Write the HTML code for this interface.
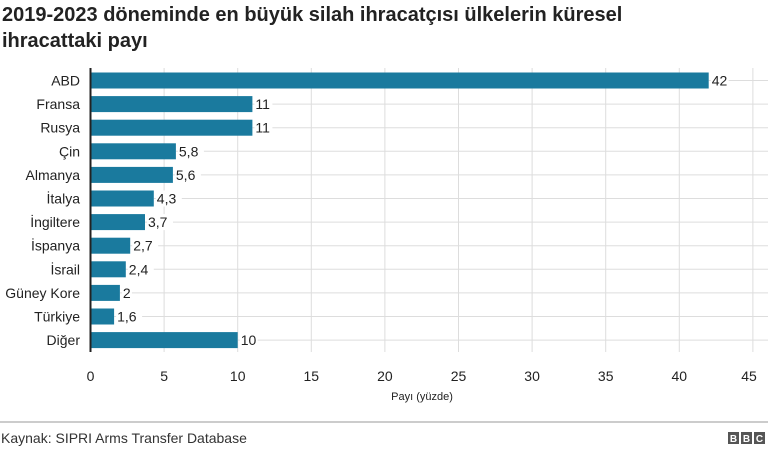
<!DOCTYPE html><html><head><meta charset="utf-8"><style>
body{margin:0;width:768px;height:450px;background:#fff;font-family:"Liberation Sans",sans-serif;overflow:hidden}
</style></head><body>
<svg width="768" height="450" xmlns="http://www.w3.org/2000/svg" font-family="Liberation Sans, sans-serif">
<text x="2" y="21" font-size="20" font-weight="bold" fill="#222">2019-2023 döneminde en büyük silah ihracatçısı ülkelerin küresel</text>
<text x="2" y="47" font-size="20" font-weight="bold" fill="#222">ihracattaki payı</text>
<g stroke="#ddd" stroke-width="1">
<line x1="164.1" y1="68" x2="164.1" y2="352"/><line x1="237.7" y1="68" x2="237.7" y2="352"/><line x1="311.3" y1="68" x2="311.3" y2="352"/><line x1="384.9" y1="68" x2="384.9" y2="352"/><line x1="458.5" y1="68" x2="458.5" y2="352"/><line x1="532.1" y1="68" x2="532.1" y2="352"/><line x1="605.7" y1="68" x2="605.7" y2="352"/><line x1="679.3" y1="68" x2="679.3" y2="352"/><line x1="752.9" y1="68" x2="752.9" y2="352"/>
<line x1="708.7" y1="80.5" x2="768" y2="80.5"/>
<line x1="252.4" y1="104.1" x2="768" y2="104.1"/>
<line x1="252.4" y1="127.7" x2="768" y2="127.7"/>
<line x1="175.9" y1="151.3" x2="768" y2="151.3"/>
<line x1="172.9" y1="174.9" x2="768" y2="174.9"/>
<line x1="153.8" y1="198.5" x2="768" y2="198.5"/>
<line x1="145" y1="222.1" x2="768" y2="222.1"/>
<line x1="130.2" y1="245.7" x2="768" y2="245.7"/>
<line x1="125.8" y1="269.3" x2="768" y2="269.3"/>
<line x1="119.9" y1="292.9" x2="768" y2="292.9"/>
<line x1="114.1" y1="316.5" x2="768" y2="316.5"/>
<line x1="237.7" y1="340.1" x2="768" y2="340.1"/>
</g>
<g fill="#1a7a9e">
<rect x="90.5" y="72.5" width="618.2" height="16"/>
<rect x="90.5" y="96.1" width="161.9" height="16"/>
<rect x="90.5" y="119.7" width="161.9" height="16"/>
<rect x="90.5" y="143.3" width="85.4" height="16"/>
<rect x="90.5" y="166.9" width="82.4" height="16"/>
<rect x="90.5" y="190.5" width="63.3" height="16"/>
<rect x="90.5" y="214.1" width="54.5" height="16"/>
<rect x="90.5" y="237.7" width="39.7" height="16"/>
<rect x="90.5" y="261.3" width="35.3" height="16"/>
<rect x="90.5" y="284.9" width="29.4" height="16"/>
<rect x="90.5" y="308.5" width="23.6" height="16"/>
<rect x="90.5" y="332.1" width="147.2" height="16"/>
</g>
<g fill="#fff">
<rect x="710.7" y="72.5" width="18" height="16"/>
<rect x="254.4" y="96.1" width="18" height="16"/>
<rect x="254.4" y="119.7" width="18" height="16"/>
<rect x="177.9" y="143.3" width="26" height="16"/>
<rect x="174.9" y="166.9" width="26" height="16"/>
<rect x="155.8" y="190.5" width="26" height="16"/>
<rect x="147" y="214.1" width="26" height="16"/>
<rect x="132.2" y="237.7" width="26" height="16"/>
<rect x="127.8" y="261.3" width="26" height="16"/>
<rect x="121.9" y="284.9" width="10" height="16"/>
<rect x="116.1" y="308.5" width="26" height="16"/>
<rect x="239.7" y="332.1" width="18" height="16"/>
</g>
<g font-size="14" fill="#222" text-anchor="end">
<text x="80" y="85.5">ABD</text>
<text x="80" y="109.1">Fransa</text>
<text x="80" y="132.7">Rusya</text>
<text x="80" y="156.3">Çin</text>
<text x="80" y="179.9">Almanya</text>
<text x="80" y="203.5">İtalya</text>
<text x="80" y="227.1">İngiltere</text>
<text x="80" y="250.7">İspanya</text>
<text x="80" y="274.3">İsrail</text>
<text x="80" y="297.9">Güney Kore</text>
<text x="80" y="321.5">Türkiye</text>
<text x="80" y="345.1">Diğer</text>
</g>
<g font-size="14" fill="#222">
<text x="711.7" y="85.5">42</text>
<text x="255.4" y="109.1">11</text>
<text x="255.4" y="132.7">11</text>
<text x="178.9" y="156.3">5,8</text>
<text x="175.9" y="179.9">5,6</text>
<text x="156.8" y="203.5">4,3</text>
<text x="148" y="227.1">3,7</text>
<text x="133.2" y="250.7">2,7</text>
<text x="128.8" y="274.3">2,4</text>
<text x="122.9" y="297.9">2</text>
<text x="117.1" y="321.5">1,6</text>
<text x="240.7" y="345.1">10</text>
</g>
<line x1="90.5" y1="68" x2="90.5" y2="352" stroke="#222" stroke-width="2"/>
<g font-size="14" fill="#222" text-anchor="middle">
<text x="90.5" y="381">0</text><text x="164.1" y="381">5</text><text x="237.7" y="381">10</text><text x="311.3" y="381">15</text><text x="384.9" y="381">20</text><text x="458.5" y="381">25</text><text x="532.1" y="381">30</text><text x="605.7" y="381">35</text><text x="679.3" y="381">40</text><text x="749" y="381">45</text>
<text x="422" y="400" font-size="11">Payı (yüzde)</text>
</g>
<line x1="0" y1="422" x2="768" y2="422" stroke="#bbb" stroke-width="1.5"/>
<text x="1" y="443" font-size="14" fill="#333">Kaynak: SIPRI Arms Transfer Database</text>
<g font-size="10" font-weight="bold" fill="#fff" text-anchor="middle">
<rect x="728" y="432" width="11" height="12" fill="#555"/><text x="733.5" y="442">B</text>
<rect x="741" y="432" width="11" height="12" fill="#555"/><text x="746.5" y="442">B</text>
<rect x="754" y="432" width="11" height="12" fill="#555"/><text x="759.5" y="442">C</text>
</g>
</svg>
</body></html>
